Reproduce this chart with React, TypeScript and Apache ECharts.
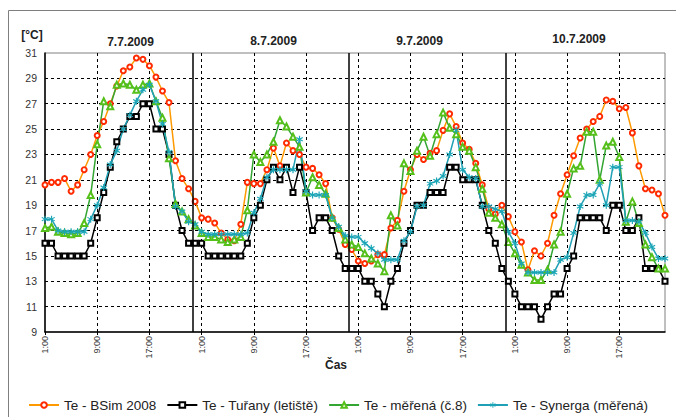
import React, { useEffect, useRef } from 'react';
import * as echarts from 'echarts';

const days = ['7.7.2009', '8.7.2009', '9.7.2009', '10.7.2009'];
const hours = ['1:00', '2:00', '3:00', '4:00', '5:00', '6:00', '7:00', '8:00', '9:00', '10:00', '11:00', '12:00',
  '13:00', '14:00', '15:00', '16:00', '17:00', '18:00', '19:00', '20:00', '21:00', '22:00', '23:00', '24:00'];
const seriesNames = ['Te - BSim 2008', 'Te - Tuřany (letiště)', 'Te - měřená (č.8)', 'Te - Synerga (měřená)'];

const bsim = [
  20.6, 20.8, 20.8, 21.1, 20.1, 20.6, 21.8, 23.0, 24.5, 25.6, 27.0, 28.4, 29.6, 29.9, 30.6, 30.5, 30.0, 29.1, 28.0, 27.1, 22.5, 21.1, 20.3, 19.3,
  18.0, 17.9, 17.6, 16.8, 16.3, 16.2, 17.5, 20.8, 20.7, 20.7, 21.8, 23.5, 22.1, 23.9, 23.3, 23.0, 22.0, 21.9, 21.4, 20.7, 18.0, 17.1, 15.9, 15.5,
  14.6, 14.4, 14.6, 15.1, 15.1, 17.2, 17.8, 20.1, 21.8, 23.0, 22.6, 23.1, 23.3, 24.9, 26.2, 25.2, 23.9, 23.4, 22.3, 20.6, 18.7, 18.3, 19.0, 18.1,
  16.9, 16.1, 13.9, 15.4, 15.0, 16.0, 18.2, 19.9, 21.4, 22.9, 24.3, 25.0, 25.6, 26.0, 27.3, 27.2, 26.6, 26.7, 24.7, 22.1, 20.3, 20.2, 19.9, 18.2,
];
const turany = [
  16, 16, 15, 15, 15, 15, 15, 16, 18, 20, 22, 24, 25, 26, 26, 27, 27, 25, 25, 23, 19, 17, 16, 16,
  16, 15, 15, 15, 15, 15, 15, 16, 18, 19, 21, 22, 21, 22, 20, 22, 20, 17, 18, 18, 17, 15, 14, 14,
  14, 13, 13, 12, 11, 13, 14, 16, 17, 19, 19, 20, 20, 20, 22, 22, 21, 21, 21, 19, 17, 16, 14, 13,
  12, 11, 11, 11, 10, 11, 12, 12, 14, 15, 18, 18, 18, 18, 17, 19, 19, 17, 17, 18, 14, 14, 14, 13,
];
const merena = [
  17.2, 17.3, 16.9, 16.8, 16.7, 16.8, 17.6, 19.8, 23.8, 27.2, 26.8, 28.5, 28.6, 28.5, 28.1, 28.5, 28.6, 27.2, 25.9, 22.7, 19.1, 18.5, 17.9, 17.4,
  16.8, 16.5, 16.5, 16.3, 16.1, 16.3, 16.5, 18.6, 23.0, 22.4, 23.0, 24.0, 25.7, 25.2, 24.4, 23.6, 20.0, 21.2, 20.6, 19.9, 18.0, 17.2, 16.3, 15.9,
  15.7, 15.2, 14.8, 14.4, 13.8, 18.2, 17.4, 22.3, 21.7, 23.3, 24.4, 22.9, 24.6, 26.3, 25.1, 24.6, 23.6, 23.3, 22.0, 20.3, 18.4, 18.0, 17.5, 16.1,
  15.2, 14.3, 13.7, 13.1, 13.1, 13.9, 15.9, 16.9, 19.9, 21.9, 22.1, 24.8, 24.8, 21.0, 23.7, 24.0, 22.8, 17.7, 19.3, 17.6, 15.9, 14.9, 14.0, 14.0,
];
const synerga = [
  17.9, 17.9, 17.0, 16.9, 16.9, 16.9, 16.9, 17.9, 19.0, 20.4, 22.2, 23.3, 25.0, 26.1, 27.2, 28.1, 28.5, 27.2, 25.4, 23.2, 18.9, 18.5, 17.7, 17.5,
  16.9, 16.7, 16.7, 16.7, 16.7, 16.7, 16.7, 16.8, 18.4, 19.5, 21.2, 21.8, 21.8, 21.8, 21.8, 24.2, 20.1, 19.8, 19.8, 19.8, 18.0, 17.3, 16.6, 16.5,
  16.5, 16.0, 15.6, 15.2, 14.7, 14.7, 14.7, 16.2, 16.9, 18.9, 19.0, 20.7, 20.9, 21.3, 23.0, 24.9, 21.8, 21.2, 21.1, 18.9, 18.9, 18.7, 18.5, 16.9,
  16.0, 14.4, 13.7, 13.7, 13.7, 13.7, 13.7, 14.7, 14.9, 16.8, 18.9, 19.8, 19.8, 20.7, 19.0, 22.0, 22.0, 17.8, 17.8, 17.7, 16.8, 15.7, 14.8, 14.8,
];

const yMin = 9;
const yMax = 31;
const yStep = 2;
const xLabelStep = 8;
const daySeparators = [22.6, 46.6, 70.6];

const FONT = 'Liberation Sans, Arial, sans-serif';
const asterisk =
  'path://M-0.8,-5L-0.8,5L0.8,5L0.8,-5Z M3.93,3.19L4.73,1.81L-3.93,-3.19L-4.73,-1.81Z M-4.73,1.81L-3.93,3.19L4.73,-1.81L3.93,-3.19Z';

export default function App() {
  const ref = useRef<HTMLDivElement>(null);
  useEffect(() => {
    const chart = echarts.init(ref.current!, null, { renderer: 'svg' });
    const pairs = (arr: number[]) => arr.map((v, i) => [i, v]);
    const total = days.length * hours.length;
    const dayTitleX = [130.5, 273.5, 419.5, 579];
    const dayTitleY = [42, 41, 41, 39];
    chart.setOption({
      animation: false,
      backgroundColor: '#fff',
      grid: {
        left: 45, top: 53, right: 11, bottom: 85,
        show: true, borderColor: '#808080', borderWidth: 1, backgroundColor: 'transparent',
      },
      legend: {
        top: 393, left: 'center', itemGap: 10, itemWidth: 30, itemHeight: 7,
        textStyle: { fontSize: 13.5, fontFamily: FONT, color: '#222' },
        data: seriesNames,
      },
      xAxis: {
        type: 'value', min: 0, max: total - 1, interval: xLabelStep,
        axisLine: { show: true, lineStyle: { color: '#000', width: 1.5 } },
        axisTick: { show: true, length: 3, lineStyle: { color: '#000' } },
        axisLabel: {
          rotate: 90, fontSize: 9, fontFamily: FONT, color: '#333', margin: 4,
          showMaxLabel: false,
          formatter: (v: number) => hours[v % hours.length],
        },
        splitLine: { show: true, showMinLine: false, showMaxLine: false, lineStyle: { color: '#000', type: [3, 3], width: 1 } },
      },
      yAxis: {
        type: 'value', min: yMin, max: yMax, interval: yStep,
        axisLine: { show: true, lineStyle: { color: '#000', width: 1.5 } },
        axisTick: { show: false },
        axisLabel: { fontSize: 10.5, fontFamily: FONT, color: '#333', margin: 8 },
        splitLine: { show: true, showMinLine: false, showMaxLine: false, lineStyle: { color: '#000', type: [3, 3], width: 1 } },
      },
      graphic: [
        { type: 'rect', z: -10, shape: { x: 8.5, y: 10.5, width: 700, height: 500 }, style: { fill: 'none', stroke: '#7f7f7f', lineWidth: 1 } },
        { type: 'text', x: 32, y: 35, style: { text: '[°C]', font: `bold 12px ${FONT}`, fill: '#222', textAlign: 'center', textVerticalAlign: 'middle' } },
        { type: 'text', x: 336, y: 365, style: { text: 'Čas', font: `bold 12px ${FONT}`, fill: '#222', textAlign: 'center', textVerticalAlign: 'middle' } },
        ...days.map((d, k) => ({
          type: 'text', x: dayTitleX[k], y: dayTitleY[k],
          style: { text: d, font: `bold 12px ${FONT}`, fill: '#222', textAlign: 'center', textVerticalAlign: 'middle' },
        })),
      ],
      series: [
        {
          name: seriesNames[0], type: 'line', data: pairs(bsim),
          symbol: 'emptyCircle', symbolSize: 5,
          itemStyle: { color: '#FF2A00', borderWidth: 1 },
          lineStyle: { color: '#FF9900', width: 1.5 },
          markLine: {
            silent: true, symbol: ['none', 'none'], label: { show: false },
            lineStyle: { color: '#000', type: 'solid', width: 1.5 },
            data: daySeparators.map((x) => ({ xAxis: x })),
          },
        },
        {
          name: seriesNames[1], type: 'line', data: pairs(turany),
          symbol: 'emptyRect', symbolSize: 5,
          itemStyle: { color: '#000', borderWidth: 1 },
          lineStyle: { color: '#000', width: 1.5 },
        },
        {
          name: seriesNames[2], type: 'line', data: pairs(merena),
          symbol: 'emptyTriangle', symbolSize: 6,
          itemStyle: { color: '#55C01A', borderWidth: 1 },
          lineStyle: { color: '#33A532', width: 1.5 },
        },
        {
          name: seriesNames[3], type: 'line', data: pairs(synerga),
          symbol: asterisk, symbolSize: 7,
          itemStyle: { color: '#1AA6B7' },
          lineStyle: { color: '#1FA0B5', width: 1.5 },
        },
      ],
    });
    return () => chart.dispose();
  }, []);
  return <div ref={ref} style={{ position: 'fixed', left: 0, top: 0, width: 676, height: 417 }} />;
}
